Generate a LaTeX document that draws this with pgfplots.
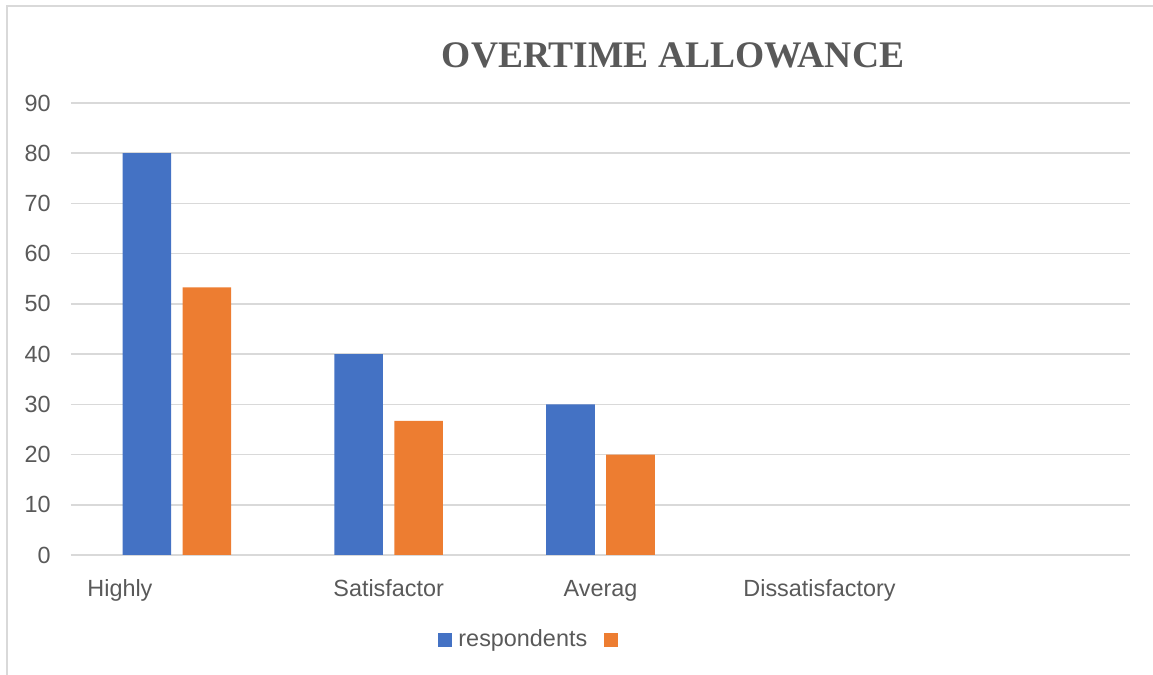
\documentclass[border=0pt]{standalone}
\usepackage{pgfplots}
\pgfplotsset{compat=1.18}
\usepackage{fontspec}
\setmainfont{Liberation Sans}
\newfontfamily\titlefont{Liberation Serif}

\definecolor{barblue}{HTML}{4472C4}
\definecolor{barorange}{HTML}{ED7D31}
\definecolor{txtgray}{HTML}{595959}
\definecolor{gridgray}{HTML}{D9D9D9}

\begin{document}
\begin{tikzpicture}
% page extent
\path[use as bounding box] (0,0) rectangle (576.5pt,337.5pt);
% chart frame
\draw[gridgray, line width=1pt] (3.5pt,0) -- (3.5pt,334.4pt) -- (576.5pt,334.4pt);
% title
\node[anchor=base, text=txtgray, font=\titlefont\bfseries\fontsize{18.75pt}{22pt}\selectfont]
  at (336.5pt,303.6pt) {OVERTIME ALLOWANCE};

\begin{axis}[
  at={(35.5pt,60pt)}, anchor=south west,
  scale only axis,
  width=529.5pt, height=226pt,
  xmin=-0.5, xmax=4.5,
  ymin=0, ymax=90,
  ytick={0,10,...,90},
  xtick={-0.269,1,2,3.034},
  xticklabels={Highly,Satisfactor,Averag,Dissatisfactory},
  ymajorgrids,
  grid style={gridgray, line width=0.75pt},
  axis line style={draw=none},
  major tick length=0pt,
  tick label style={text=txtgray, font=\fontsize{11.7pt}{14pt}\selectfont},
  /pgf/number format/assume math mode=true,
  yticklabel style={anchor=east, inner sep=0pt, xshift=-10pt},
  xticklabel style={anchor=base, inner sep=0pt, yshift=-21pt},
  ybar,
  bar width=24.3pt,
  legend style={
    at={(0.3466,-0.188)}, anchor=west,
    draw=none, fill=none, inner sep=0pt,
    legend columns=-1,
    /tikz/every odd column/.append style={column sep=3pt},
    /tikz/every even column/.append style={column sep=8.5pt},
    nodes={inner sep=0pt, text=txtgray, font=\fontsize{11.7pt}{14pt}\selectfont},
  },
  legend image code/.code={\fill[#1] (0pt,-3.5pt) rectangle (7pt,3.5pt);},
]
% the Dissatisfactory group is 0 for both series, so no bar is drawn there
\addplot[fill=barblue, draw=none, bar shift=-15pt]
  coordinates {(0,80) (1,40) (2,30)};
\addlegendentry{respondents}
\addplot[fill=barorange, draw=none, bar shift=15pt]
  coordinates {(0,53.3) (1,26.7) (2,20)};
\addlegendentry{\mbox{}}
\end{axis}
\end{tikzpicture}
\end{document}
